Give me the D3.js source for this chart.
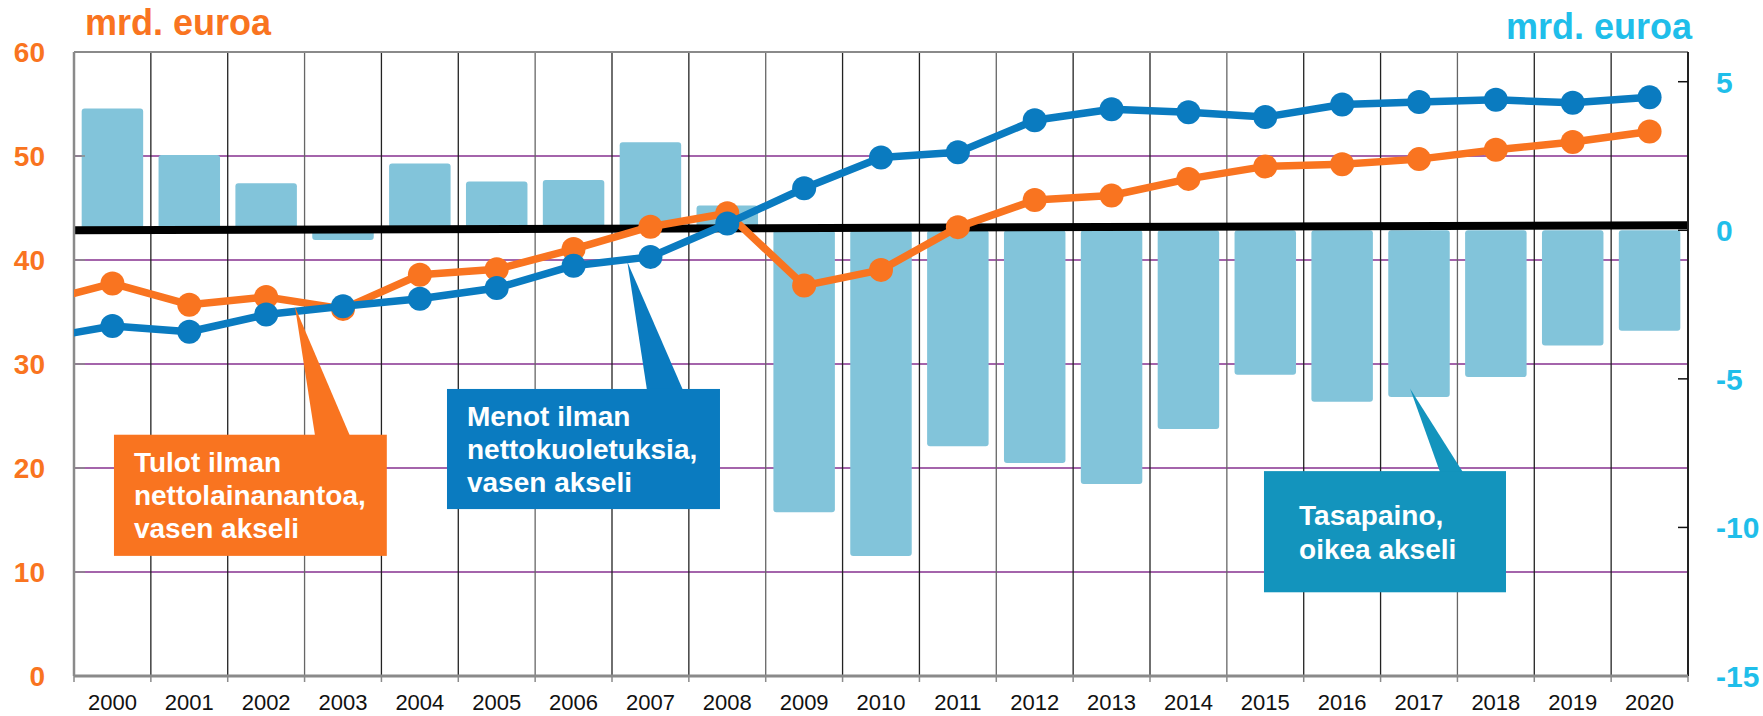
<!DOCTYPE html>
<html>
  <head>
    <meta charset="utf-8">
    <title>Tulot, menot ja tasapaino</title>
    <script src="https://d3js.org/d3.v7.min.js"></script>
    <style>
      body { margin: 0; background: #fff; }
      text { font-family: "Liberation Sans", Arial, sans-serif; }
    </style>
  </head>
  <body>
    <div id="chart"></div>
    <script type="text/javascript">

      // data
      var years = ["2000","2001","2002","2003","2004","2005","2006","2007","2008","2009","2010",
                   "2011","2012","2013","2014","2015","2016","2017","2018","2019","2020"];
      // tasapaino, oikea akseli
      var tasapaino = [4.1, 2.53, 1.58, -0.33, 2.25, 1.64, 1.69, 2.96, 0.83, -9.49, -10.96,
                       -7.27, -7.83, -8.54, -6.69, -4.86, -5.77, -5.61, -4.94, -3.88, -3.38];
      // tulot ilman nettolainanantoa, vasen akseli
      var tulot = [37.75, 35.7, 36.45, 35.3, 38.58, 39.1, 41.05, 43.2, 44.5, 37.54, 39.05,
                   43.16, 45.76, 46.2, 47.8, 49.0, 49.2, 49.7, 50.6, 51.35, 52.35];
      // menot ilman nettokuoletuksia, vasen akseli
      var menot = [33.65, 33.1, 34.75, 35.55, 36.28, 37.3, 39.45, 40.3, 43.5, 46.9, 49.85,
                   50.35, 53.43, 54.5, 54.2, 53.75, 54.95, 55.2, 55.4, 55.12, 55.65];
      // value of each line just before 2000 (line runs in from the left edge)
      var tulotPrev = 35.85, menotPrev = 32.35;

      var leftTicks = [0, 10, 20, 30, 40, 50, 60];
      var rightTicks = [-15, -10, -5, 0, 5];
      var gridValues = [10, 20, 30, 40, 50];
      var zeroLine = [0, 0.17];   // the thick black line drifts up a little

      var width = 1763, height = 716;
      var margin = {top: 52, right: 75, bottom: 40, left: 74};
      var plotW = width - margin.left - margin.right;
      var plotH = height - margin.top - margin.bottom;

      var orange = "#F97420", blue = "#0A7BC0", teal = "#1394BD",
          barColor = "#82C4DA", sky = "#1FBEEA";

      var svg = d3.select("#chart")
          .append("svg")
          .attr("width", width)
          .attr("height", height)
          .append("g")
          .attr("transform", "translate(" + margin.left + "," + margin.top + ")");

      var x = d3.scaleBand()
          .domain(years)
          .range([0, plotW])
          .paddingInner(0.2)
          .paddingOuter(0.1);
      var step = x.step();
      // continuous position along categories (0 = left edge, 21 = right edge)
      var xi = d3.scaleLinear().domain([0, years.length]).range([0, plotW]);

      var yL = d3.scaleLinear().domain([0, 60]).range([plotH, 0]);
      var yR = d3.scaleLinear().domain([-15, 6]).range([plotH, 0]);

      svg.append("clipPath").attr("id", "plotclip")
        .append("rect").attr("width", plotW).attr("height", plotH);

      // purple horizontal grid
      svg.append("g").selectAll("line")
        .data(gridValues)
        .enter().append("line")
          .attr("x1", 0).attr("x2", plotW)
          .attr("y1", function(d) { return yL(d); })
          .attr("y2", function(d) { return yL(d); })
          .attr("stroke", "#86308F")
          .attr("stroke-width", 1.6);

      // vertical separators
      svg.append("g").selectAll("line")
        .data(years.slice(1))
        .enter().append("line")
          .attr("x1", function(d) { return x(d) - step * 0.1; })
          .attr("x2", function(d) { return x(d) - step * 0.1; })
          .attr("y1", 0).attr("y2", plotH)
          .attr("stroke", function(d, i) { return i % 3 == 2 ? "#666" : "#222"; })
          .attr("stroke-width", 1.3);

      // bars
      svg.append("g").selectAll("rect")
        .data(tasapaino)
        .enter().append("rect")
          .attr("x", function(d, i) { return x(years[i]); })
          .attr("width", x.bandwidth())
          .attr("y", function(d) { return d >= 0 ? yR(d) : yR(0); })
          .attr("height", function(d) { return Math.abs(yR(d) - yR(0)); })
          .attr("rx", 3)
          .attr("fill", barColor);

      // thick zero line
      svg.append("line")
        .attr("x1", 0).attr("x2", plotW)
        .attr("y1", yR(zeroLine[0]))
        .attr("y2", yR(zeroLine[1]))
        .attr("stroke", "#000")
        .attr("stroke-width", 8);

      // frame and axes
      svg.append("line").attr("x1", 0).attr("x2", plotW).attr("y1", 0).attr("y2", 0)
        .attr("stroke", "#8a8a8a").attr("stroke-width", 2);
      svg.append("line").attr("x1", 0).attr("x2", 0).attr("y1", 0).attr("y2", plotH)
        .attr("stroke", "#8a8a8a").attr("stroke-width", 2.5);
      svg.append("line").attr("x1", plotW).attr("x2", plotW).attr("y1", 0).attr("y2", plotH)
        .attr("stroke", "#222").attr("stroke-width", 2);

      // left axis: inward gray ticks, orange labels
      var gl = svg.append("g");
      gl.selectAll("line")
        .data(leftTicks)
        .enter().append("line")
          .attr("x1", 0).attr("x2", 11)
          .attr("y1", function(d) { return yL(d); })
          .attr("y2", function(d) { return yL(d); })
          .attr("stroke", "#8a8a8a").attr("stroke-width", 1.5);
      gl.selectAll("text")
        .data(leftTicks)
        .enter().append("text")
          .attr("x", -29)
          .attr("y", function(d) { return yL(d); })
          .attr("dy", "0.36em")
          .attr("text-anchor", "end")
          .attr("font-size", 28)
          .attr("font-weight", "bold")
          .attr("fill", orange)
          .text(function(d) { return d; });

      // right axis: inward black ticks, light blue labels
      var gr = svg.append("g");
      gr.selectAll("line")
        .data(rightTicks)
        .enter().append("line")
          .attr("x1", plotW - 10).attr("x2", plotW)
          .attr("y1", function(d) { return yR(d); })
          .attr("y2", function(d) { return yR(d); })
          .attr("stroke", "#111").attr("stroke-width", 1.5);
      gr.selectAll("text")
        .data(rightTicks)
        .enter().append("text")
          .attr("x", plotW + 28)
          .attr("y", function(d) { return yR(d); })
          .attr("dy", "0.36em")
          .attr("font-size", 30)
          .attr("font-weight", "bold")
          .attr("fill", sky)
          .text(function(d) { return d; });

      // bottom axis
      var gb = svg.append("g").attr("transform", "translate(0," + plotH + ")");
      gb.append("line").attr("x1", 0).attr("x2", plotW)
        .attr("stroke", "#8a8a8a").attr("stroke-width", 3);
      gb.selectAll("line.tick")
        .data(d3.range(years.length + 1))
        .enter().append("line")
          .attr("class", "tick")
          .attr("x1", function(d) { return xi(d); })
          .attr("x2", function(d) { return xi(d); })
          .attr("y1", 0).attr("y2", 6)
          .attr("stroke", "#8a8a8a").attr("stroke-width", 1.5);
      gb.selectAll("text")
        .data(years)
        .enter().append("text")
          .attr("x", function(d) { return x(d) + x.bandwidth() / 2; })
          .attr("y", 34)
          .attr("text-anchor", "middle")
          .attr("font-size", 22)
          .attr("fill", "#111")
          .text(function(d) { return d; });

      // axis titles
      svg.append("text")
        .attr("x", 11).attr("y", -17)
        .attr("font-size", 36).attr("font-weight", "bold")
        .attr("fill", orange)
        .text("mrd. euroa");
      svg.append("text")
        .attr("x", plotW + 4).attr("y", -13)
        .attr("text-anchor", "end")
        .attr("font-size", 36).attr("font-weight", "bold")
        .attr("fill", sky)
        .text("mrd. euroa");

      // lines with markers
      function drawSeries(values, prev, color) {
        var pts = [[-step / 2, yL(prev)]].concat(values.map(function(v, i) {
          return [x(years[i]) + x.bandwidth() / 2, yL(v)];
        }));
        svg.append("path")
          .attr("clip-path", "url(#plotclip)")
          .attr("d", d3.line()(pts))
          .attr("fill", "none")
          .attr("stroke", color)
          .attr("stroke-width", 7.5)
          .attr("stroke-linejoin", "round");
        svg.append("g").selectAll("circle")
          .data(values)
          .enter().append("circle")
            .attr("cx", function(d, i) { return x(years[i]) + x.bandwidth() / 2; })
            .attr("cy", function(d) { return yL(d); })
            .attr("r", 12)
            .attr("fill", color);
      }
      drawSeries(tulot, tulotPrev, orange);
      drawSeries(menot, menotPrev, blue);

      // callouts: box [u0,u1] x [v0,v1] in category units / left-axis values
      var callouts = [
        {color: orange, box: [0.52, 4.07, 23.2, 11.55], tip: [2.875, 35.5], base: [3.136, 3.59],
         textX: 0.78, lines: ["Tulot ilman", "nettolainanantoa,", "vasen akseli"], first: 472, lh: 33},
        {color: blue, box: [4.853, 8.405, 27.6, 16.05], tip: [7.2, 39.8], base: [7.455, 7.923],
         textX: 5.113, lines: ["Menot ilman", "nettokuoletuksia,", "vasen akseli"], first: 426, lh: 33},
        {color: teal, box: [15.483, 18.632, 19.7, 8.05], tip: [17.383, 27.64], base: [17.773, 18.07],
         textX: 15.94, lines: ["Tasapaino,", "oikea akseli"], first: 525, lh: 34}
      ];

      callouts.forEach(function(c) {
        var g = svg.append("g");
        g.append("path")
          .attr("d", d3.line()([
            [xi(c.tip[0]), yL(c.tip[1])],
            [xi(c.base[1]), yL(c.box[2]) + 1],
            [xi(c.base[0]), yL(c.box[2]) + 1]
          ]) + "Z")
          .attr("fill", c.color);
        g.append("rect")
          .attr("x", xi(c.box[0]))
          .attr("y", yL(c.box[2]))
          .attr("width", xi(c.box[1]) - xi(c.box[0]))
          .attr("height", yL(c.box[3]) - yL(c.box[2]))
          .attr("fill", c.color);
        g.selectAll("text")
          .data(c.lines)
          .enter().append("text")
            .attr("x", xi(c.textX))
            .attr("y", function(d, i) { return c.first - margin.top + i * c.lh; })
            .attr("font-size", 28)
            .attr("font-weight", "bold")
            .attr("fill", "#fff")
            .text(function(d) { return d; });
      });

    </script>
  </body>
</html>
